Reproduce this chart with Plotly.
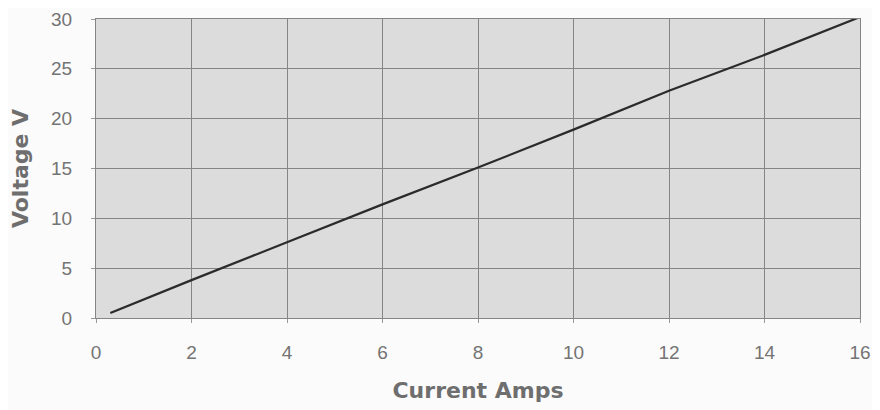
import plotly.graph_objects as go

current = [0.3, 2, 4, 6, 8, 10, 12, 14, 16]
voltage = [0.5, 3.8, 7.6, 11.4, 15.1, 18.9, 22.8, 26.4, 30.2]
x_ticks = [0, 2, 4, 6, 8, 10, 12, 14, 16]
y_ticks = [0, 5, 10, 15, 20, 25, 30]

fig = go.Figure()
fig.add_trace(go.Scatter(x=current, y=voltage, mode="lines",
                         line=dict(color="#2b2b2b", width=2.2), showlegend=False))

title_font = dict(family="DejaVu Sans, Liberation Sans, sans-serif", size=22, color="#6e6e6e")

fig.update_layout(
    width=872, height=402,
    margin=dict(l=88, r=20, t=11, b=92),
    paper_bgcolor="#fbfbfb",
    plot_bgcolor="#dcdcdc",
    font=dict(family="Liberation Sans, Arial, sans-serif", color="#747474", size=19),
)
fig.update_xaxes(range=[0, 16], tickvals=x_ticks, showgrid=True, gridcolor="#858585",
                 gridwidth=1, zeroline=False, showline=True, linecolor="#858585", mirror=True,
                 ticks="outside", ticklen=4, tickcolor="#9a9a9a", ticklabelstandoff=13,
                 automargin=False, ticklabeloverflow="allow",
                 title=dict(text="<b>Current Amps</b>", font=title_font, standoff=20))
fig.update_yaxes(range=[0, 30], tickvals=y_ticks, showgrid=True, gridcolor="#858585",
                 gridwidth=1, zeroline=False, showline=True, linecolor="#858585", mirror=True,
                 ticks="outside", ticklen=4, tickcolor="#9a9a9a", ticklabelstandoff=15,
                 automargin=False, ticklabeloverflow="allow",
                 title=dict(text="<b>Voltage V</b>", font=title_font, standoff=18))

fig.write_html("out.html")
